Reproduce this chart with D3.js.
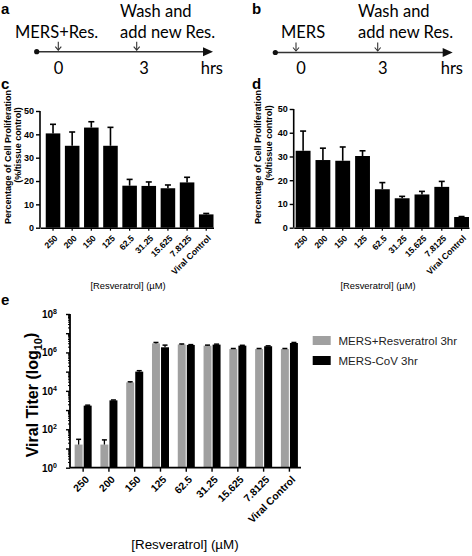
<!DOCTYPE html>
<html><head><meta charset="utf-8">
<script src="https://cdn.jsdelivr.net/npm/d3@7"></script>
<style>
html,body{margin:0;padding:0;background:#fff;}
svg{display:block;}
text{font-family:"Liberation Sans",Arial,sans-serif;fill:#000;}
.tl{font-family:Lato,"Noto Sans",sans-serif;}
</style></head><body>
<svg id="fig" width="472" height="556"></svg>
<script>
// ---------- data ----------
const categories = ["250","200","150","125","62.5","31.25","15.625","7.8125","Viral Control"];
const cMeans = [40.4, 35.1, 42.9, 35.1, 18.0, 17.9, 16.9, 19.4, 5.7];
const cUpper = [44.3, 41.0, 45.4, 43.0, 20.7, 19.6, 18.3, 21.6, 6.1];
const dMeans = [32.4, 28.5, 28.2, 30.2, 16.2, 12.4, 14.0, 17.2, 4.5];
const dUpper = [40.7, 33.5, 34.0, 32.4, 19.0, 13.2, 15.3, 19.5, 4.7];
const eSeries = ["MERS+Resveratrol 3hr", "MERS-CoV 3hr"];
const eGrey = [16, 16, 27500, 2.95e6, 2.6e6, 2.25e6, 1.5e6, 1.5e6, 1.5e6];
const eGreyUpper = [30, 28, 29500, 3.3e6, 2.75e6, 2.4e6, 1.6e6, 1.6e6, 1.6e6];
const eBlack = [1700, 3200, 1.0e5, 1.85e6, 2.45e6, 2.55e6, 2.25e6, 2.1e6, 3.1e6];
const eBlackUpper = [1800, 3350, 1.12e5, 2.4e6, 2.55e6, 2.7e6, 2.35e6, 2.2e6, 3.3e6];
const cdTicks = [0, 10, 20, 30, 40, 50];
const eTickExps = [0, 2, 4, 6, 8];
const seriesColors = ["#a0a0a0", "#000000"];

const svg = d3.select("#fig");

// ---------- panel letters ----------
[["a",1,14],["b",252,14],["c",1,89],["d",252,89],["e",1,305]].forEach(([t,x,y])=>{
  svg.append("text").attr("x",x).attr("y",y).attr("font-size",15).attr("font-weight","bold").text(t);
});

// ---------- timelines ----------
function timeline(o){
  const g = svg.append("g");
  const y = o.y;
  g.append("line").attr("x1",o.x0).attr("x2",o.x1-6).attr("y1",y).attr("y2",y).attr("stroke","#333").attr("stroke-width",1.6);
  g.append("circle").attr("cx",o.x0).attr("cy",y).attr("r",2.6).attr("fill","#111");
  g.append("path").attr("d",`M${o.x1},${y} L${o.x1-10},${y-4.5} L${o.x1-10},${y+4.5} Z`).attr("fill","#111");
  o.arrows.forEach(ax=>{
    g.append("line").attr("x1",ax).attr("x2",ax).attr("y1",y-10).attr("y2",y-1.5).attr("stroke","#333").attr("stroke-width",1.1);
    g.append("path").attr("d",`M${ax-3},${y-5} L${ax},${y-1.5} L${ax+3},${y-5}`).attr("fill","none").attr("stroke","#333").attr("stroke-width",1.1);
  });
  const t = (x,yy,s,anchor)=>g.append("text").attr("class","tl").attr("x",x).attr("y",yy).attr("font-size",16.5).attr("text-anchor",anchor||"start").text(s);
  t(o.startX, 38, o.startLabel);
  t(o.washX, 17, "Wash and");
  t(o.washX, 37.5, "add new Res.");
  t(o.zeroX, 73.5, "0", "middle");
  t(o.threeX, 73.5, "3", "middle");
  t(o.hrsX, 73.5, "hrs", "end");
}
timeline({x0:36.7, x1:213, y:51.7, arrows:[58.3,136.7], startX:15, startLabel:"MERS+Res.", washX:120, zeroX:58.5, threeX:144, hrsX:223});
timeline({x0:275.3, x1:452.7, y:52.5, arrows:[296,377.7], startX:281, startLabel:"MERS", washX:358, zeroX:301, threeX:382.7, hrsX:463});

// ---------- panels c & d ----------
function barPanel(o){
  const g = svg.append("g");
  const x = d3.scaleBand().domain(categories).range([o.xl, o.xr]).paddingInner(o.pi).paddingOuter(o.po).align(1);
  const y = d3.scaleLinear().domain([0,50]).range([o.yb, o.yt]);
  g.selectAll("rect.bar").data(o.means).join("rect").attr("class","bar")
    .attr("x",(d,i)=>x(categories[i])).attr("width",x.bandwidth())
    .attr("y",d=>y(d)).attr("height",d=>y(0)-y(d)).attr("fill","#000");
  const cw = 3;
  g.selectAll("line.err").data(o.upper).join("line").attr("class","err")
    .attr("x1",(d,i)=>x(categories[i])+x.bandwidth()/2).attr("x2",(d,i)=>x(categories[i])+x.bandwidth()/2)
    .attr("y1",(d,i)=>y(o.means[i])).attr("y2",d=>y(d)).attr("stroke","#000").attr("stroke-width",1.6);
  g.selectAll("line.cap").data(o.upper).join("line").attr("class","cap")
    .attr("x1",(d,i)=>x(categories[i])+x.bandwidth()/2-cw).attr("x2",(d,i)=>x(categories[i])+x.bandwidth()/2+cw)
    .attr("y1",d=>y(d)).attr("y2",d=>y(d)).attr("stroke","#000").attr("stroke-width",1.6);
  // y axis
  const ya = g.append("g").attr("transform",`translate(${o.xl},0)`)
    .call(d3.axisLeft(y).tickValues(cdTicks).tickSize(4).tickPadding(2).tickFormat(d3.format("d")));
  ya.select(".domain").attr("stroke-width",1.6).attr("d",`M0,${o.yb}V${o.yt}`);
  ya.selectAll(".tick line").attr("stroke-width",1.4);
  ya.selectAll("text").attr("font-size",9).attr("font-weight","bold").attr("font-family","Liberation Sans, Arial, sans-serif");
  // x axis
  const xa = g.append("g").attr("transform",`translate(0,${o.yb})`)
    .call(d3.axisBottom(x).tickSize(3).tickSizeOuter(0));
  xa.select(".domain").attr("stroke-width",1.6);
  xa.selectAll(".tick line").attr("stroke-width",1.2);
  xa.selectAll("text").attr("font-size",8.6).attr("font-weight","bold").attr("font-family","Liberation Sans, Arial, sans-serif")
    .attr("text-anchor","end").attr("y",0).attr("dy","0.35em")
    .attr("transform","translate(3,9) rotate(-45)");
  // labels
  const lx = o.labX;
  g.append("text").attr("transform",`translate(${lx},${o.labY1}) rotate(-90)`).attr("text-anchor","middle")
    .attr("font-size",9).attr("font-weight","bold").text("Percentage of Cell Proliferation");
  g.append("text").attr("transform",`translate(${lx+10.5},${o.labY2}) rotate(-90)`).attr("text-anchor","middle")
    .attr("font-size",9).attr("font-weight","bold").text("(%/tissue control)");
  g.append("text").attr("x",o.titleX).attr("y",289).attr("text-anchor","middle").attr("font-size",9.4).text("[Resveratrol] (µM)");
}
barPanel({means:cMeans, upper:cUpper, xl:40, xr:213.5, pi:0.24, po:0.15, yb:227.7, yt:111, labX:10.5, labY1:157, labY2:145, titleX:128});
barPanel({means:dMeans, upper:dUpper, xl:293.7, xr:469, pi:0.25, po:0.05, yb:227.7, yt:109, labX:261, labY1:157, labY2:143, titleX:378});

// ---------- panel e ----------
(function(){
  const g = svg.append("g");
  const yb = 467.7, yt = 314, xl = 70;
  const x0 = d3.scaleBand().domain(categories).range([xl, 301]).paddingInner(0.34).paddingOuter(0.15).align(0.6);
  const x1 = d3.scaleBand().domain(eSeries).range([0, x0.bandwidth()]).paddingInner(0.12);
  const y = d3.scaleLog().domain([1, 1e8]).range([yb, yt]);
  const series = [
    {name:eSeries[0], vals:eGrey, up:eGreyUpper, color:seriesColors[0]},
    {name:eSeries[1], vals:eBlack, up:eBlackUpper, color:seriesColors[1]}
  ];
  series.forEach(s=>{
    const gx = (i)=>x0(categories[i]) + x1(s.name);
    g.selectAll(null).data(s.vals).join("rect")
      .attr("x",(d,i)=>gx(i)).attr("width",x1.bandwidth())
      .attr("y",d=>y(d)).attr("height",d=>yb-y(d)).attr("fill",s.color);
    g.selectAll(null).data(s.up).join("line")
      .attr("x1",(d,i)=>gx(i)+x1.bandwidth()/2).attr("x2",(d,i)=>gx(i)+x1.bandwidth()/2)
      .attr("y1",(d,i)=>y(s.vals[i])).attr("y2",d=>y(d)).attr("stroke","#000").attr("stroke-width",1.3);
    g.selectAll(null).data(s.up).join("line")
      .attr("x1",(d,i)=>gx(i)+x1.bandwidth()/2-2.5).attr("x2",(d,i)=>gx(i)+x1.bandwidth()/2+2.5)
      .attr("y1",d=>y(d)).attr("y2",d=>y(d)).attr("stroke","#000").attr("stroke-width",1.5);
  });
  // y axis with minor ticks
  const minor = [];
  for (let e=0;e<8;e++) for (let m=2;m<=9;m++) minor.push(m*Math.pow(10,e));
  const ym = g.append("g").attr("transform",`translate(${xl},0)`)
    .call(d3.axisLeft(y).tickValues(minor).tickSize(2).tickFormat(""));
  ym.select(".domain").remove();
  ym.selectAll(".tick line").attr("stroke-width",1);
  const ya = g.append("g").attr("transform",`translate(${xl},0)`)
    .call(d3.axisLeft(y).tickValues(d3.range(0,9).map(e=>Math.pow(10,e))).tickSize(4).tickFormat(""));
  ya.select(".domain").attr("stroke-width",1.8).attr("d",`M0,${yb}V${yt}`);
  ya.selectAll(".tick line").attr("stroke-width",1.4);
  eTickExps.forEach(e=>{
    const t = g.append("text").attr("x",57).attr("y",y(Math.pow(10,e))).attr("dy","0.38em").attr("text-anchor","end")
      .attr("font-size",10).attr("font-weight","bold");
    t.append("tspan").text("10");
    t.append("tspan").attr("font-size",7).attr("dy","-0.55em").text(String(e));
  });
  // x axis
  const xa = g.append("g").attr("transform",`translate(0,${yb})`)
    .call(d3.axisBottom(x0).tickSize(4).tickSizeOuter(0));
  xa.select(".domain").attr("stroke-width",1.8).attr("d",`M${xl},0H301`);
  xa.selectAll(".tick line").attr("stroke-width",1.4);
  xa.selectAll("text").attr("font-size",10.3).attr("font-weight","bold").attr("font-family","Liberation Sans, Arial, sans-serif")
    .attr("text-anchor","end").attr("y",0).attr("dy","0.35em")
    .attr("transform","translate(4,10) rotate(-45)");
  // axis titles
  const yl = g.append("text").attr("transform",`translate(38,395) rotate(-90)`).attr("text-anchor","middle")
    .attr("font-size",16).attr("font-weight","bold");
  yl.append("tspan").text("Viral Titer (log");
  yl.append("tspan").attr("font-size",11).attr("dy","0.35em").text("10");
  yl.append("tspan").attr("dy","-0.35em").text(")");
  g.append("text").attr("x",185).attr("y",549).attr("text-anchor","middle").attr("font-size",13.4).text("[Resveratrol] (µM)");
  // legend
  series.forEach((s,i)=>{
    const ly = 336 + i*20;
    g.append("rect").attr("x",312.7).attr("y",ly).attr("width",18).attr("height",9).attr("fill",s.color);
    g.append("text").attr("x",338.5).attr("y",ly+4.5).attr("dy","0.36em").attr("font-size",11.5).style("fill","#222").text(s.name);
  });
})();
</script>
</body></html>
